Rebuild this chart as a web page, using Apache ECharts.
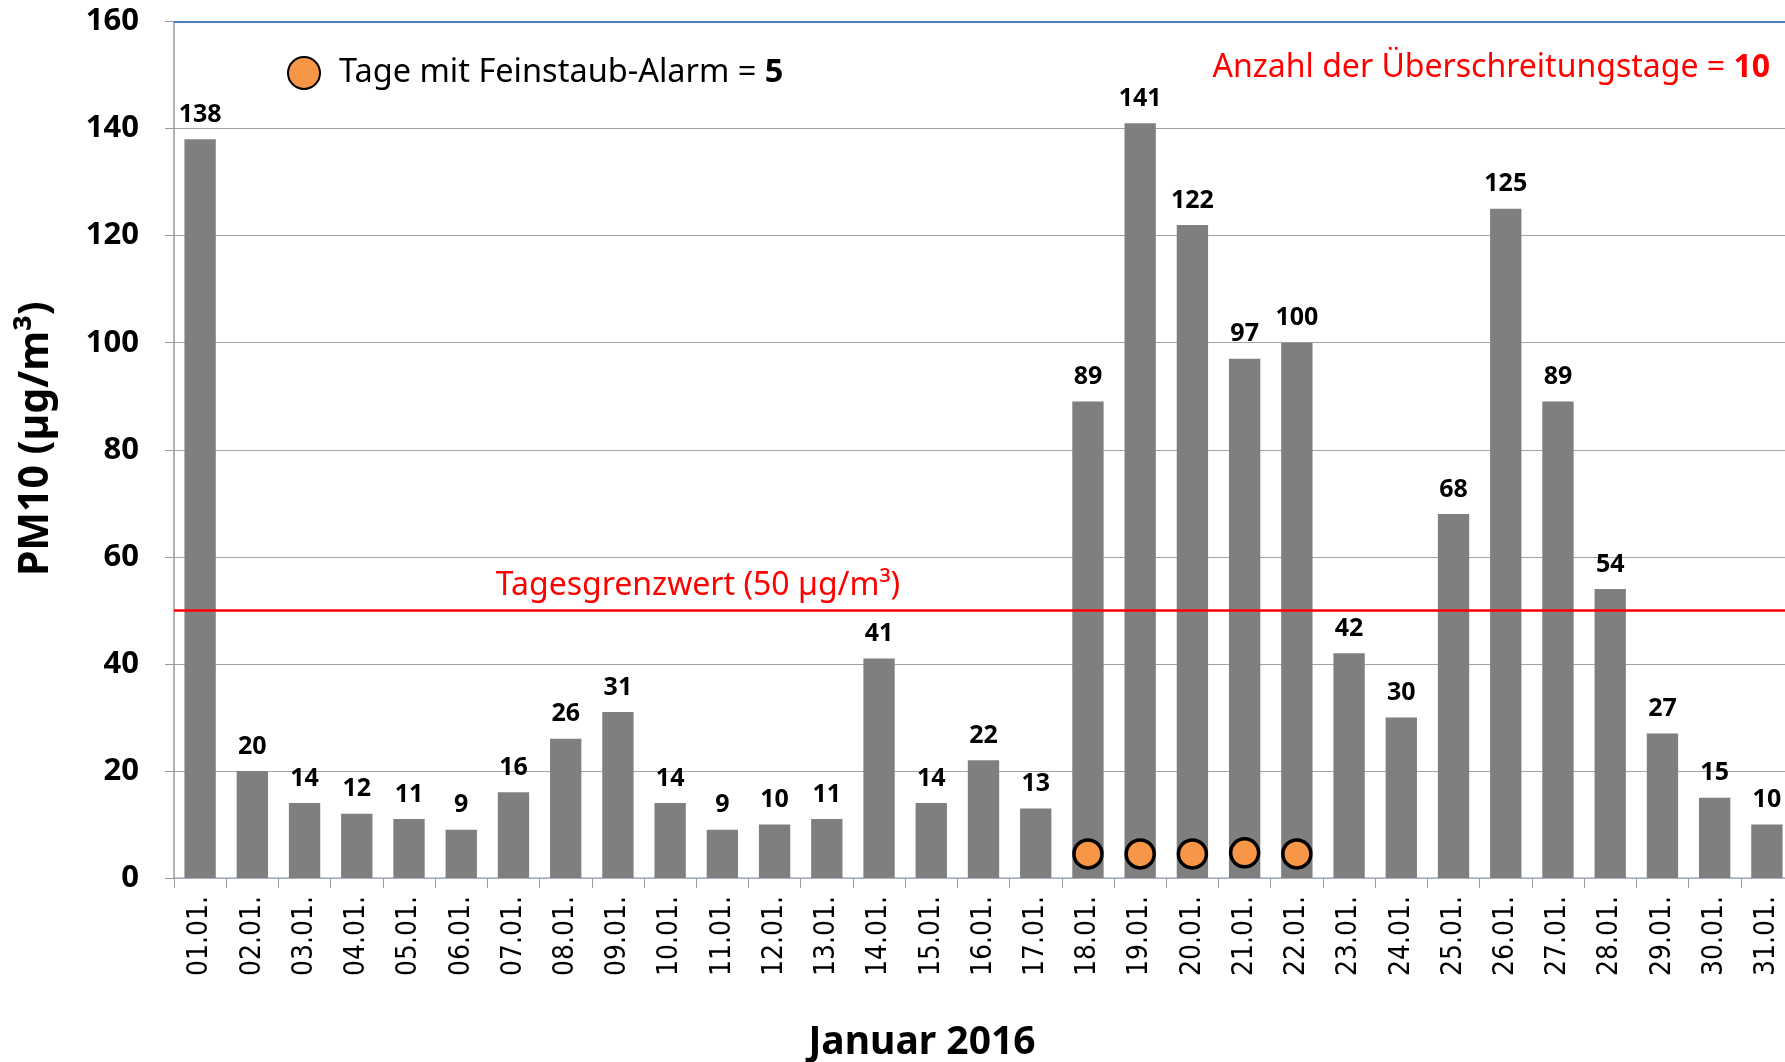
<!DOCTYPE html>
<html>
<head>
<meta charset="utf-8">
<title>PM10 Januar 2016</title>
<script src="https://cdn.jsdelivr.net/npm/echarts@6/dist/echarts.min.js"></script>
<style>
  html, body { margin: 0; padding: 0; background: #fff; overflow: hidden; }
  /* etwas breiter als das Fenster: der letzte Balken wird rechts angeschnitten */
  #chart { width: 1800px; height: 1062px; }
</style>
</head>
<body>
<div id="chart"></div>
<script>
// Tage im Januar 2016
const days = ['01.01.', '02.01.', '03.01.', '04.01.', '05.01.', '06.01.', '07.01.', '08.01.',
  '09.01.', '10.01.', '11.01.', '12.01.', '13.01.', '14.01.', '15.01.', '16.01.', '17.01.',
  '18.01.', '19.01.', '20.01.', '21.01.', '22.01.', '23.01.', '24.01.', '25.01.', '26.01.',
  '27.01.', '28.01.', '29.01.', '30.01.', '31.01.']

// PM10 Tagesmittelwerte (µg/m³)
const pm10 = [138, 20, 14, 12, 11, 9, 16, 26, 31, 14, 9, 10, 11, 41, 14, 22, 13,
  89, 141, 122, 97, 100, 42, 30, 68, 125, 89, 54, 27, 15, 10]

// Feinstaub-Alarm Markierungen (Kreise unten in den Balken)
const alarm = [null, null, null, null, null, null, null, null, null, null, null, null, null,
  null, null, null, null, 4.5, 4.5, 4.5, 4.7, 4.5, null, null, null, null, null, null, null, null, null]

const limitValue = 50
const yTicks = { min: 0, max: 160, step: 20 }

const txtFont = '"Noto Sans", sans-serif'

const chart = echarts.init(document.getElementById('chart'))

const option = {
  animation: false,
  grid: {
    left: 174,
    top: 21.5,
    right: 7,
    bottom: 184
  },
  legend: {
    left: 282,
    top: 51,
    itemWidth: 32,
    itemHeight: 32,
    data: ['alarm'],
    formatter: () => '{a|Tage mit Feinstaub-Alarm = }{b|5}',
    textStyle: {
      padding: [0, 0, 0, 14],
      rich: {
        a: { fontFamily: txtFont, fontSize: 32.5, color: '#000' },
        b: { fontFamily: txtFont, fontSize: 32.5, color: '#000', fontWeight: 'bold' }
      }
    }
  },
  xAxis: {
    type: 'category',
    data: days,
    boundaryGap: true,
    axisLine: { lineStyle: { color: '#aab5c4', width: 1.5 } },
    axisTick: { show: true, length: 10, lineStyle: { color: '#9a9a9a' } },
    axisLabel: {
      rotate: 90,
      margin: 18,
      interval: 0,
      color: '#000',
      fontFamily: '"DejaVu Sans Condensed", "DejaVu Sans", sans-serif',
      fontSize: 28
    }
  },
  yAxis: {
    type: 'value',
    min: yTicks.min,
    max: yTicks.max,
    interval: yTicks.step,
    name: 'PM10 (µg/m³)',
    nameLocation: 'middle',
    nameGap: 117,
    nameTextStyle: {
      fontFamily: txtFont, fontSize: 41, fontWeight: 'bold', color: '#000',
      padding: [0, 0, 0, 22]
    },
    axisLine: { show: true, lineStyle: { color: '#9a9a9a', width: 1.5 } },
    axisTick: { show: true, length: 9, lineStyle: { color: '#9a9a9a' } },
    axisLabel: {
      margin: 35,
      color: '#000',
      fontFamily: txtFont,
      fontSize: 31,
      fontWeight: 'bold'
    },
    splitLine: { lineStyle: { color: '#a3a3a3', width: 1.2 } }
  },
  series: [
    {
      name: 'PM10',
      type: 'bar',
      data: pm10,
      barCategoryGap: '40%',
      itemStyle: { color: '#7f7f7f' },
      label: {
        show: true,
        position: 'top',
        distance: 12,
        color: '#000',
        fontFamily: txtFont,
        fontSize: 25,
        fontWeight: 'bold'
      },
      markLine: {
        silent: true,
        symbol: ['none', 'none'],
        label: { show: false },
        data: [
          { yAxis: limitValue, lineStyle: { color: '#ff0000', width: 2.5, type: 'solid' } },
          { yAxis: yTicks.max, lineStyle: { color: '#4a7ebb', width: 2, type: 'solid' } }
        ]
      }
    },
    {
      name: 'alarm',
      type: 'scatter',
      data: alarm,
      symbol: 'circle',
      symbolSize: 28,
      z: 5,
      itemStyle: { color: '#f79646', borderColor: '#000', borderWidth: 3.5, opacity: 1 }
    }
  ],
  graphic: [
    {
      type: 'text',
      x: 698,
      y: 586,
      style: {
        text: 'Tagesgrenzwert (50 µg/m³)',
        fill: '#ff0000',
        font: '32px "Noto Sans", sans-serif',
        align: 'center',
        verticalAlign: 'middle'
      }
    },
    {
      type: 'text',
      x: 1770,
      y: 68,
      style: {
        text: '{a|Anzahl der Überschreitungstage = }{b|10}',
        align: 'right',
        verticalAlign: 'middle',
        rich: {
          a: { fontFamily: txtFont, fontSize: 32, fill: '#ff0000' },
          b: { fontFamily: txtFont, fontSize: 32, fill: '#ff0000', fontWeight: 'bold' }
        }
      }
    },
    {
      type: 'text',
      x: 922,
      y: 1043,
      style: {
        text: 'Januar 2016',
        fill: '#000',
        font: 'bold 39px "Noto Sans", sans-serif',
        align: 'center',
        verticalAlign: 'middle'
      }
    }
  ]
}

chart.setOption(option)
</script>
</body>
</html>
